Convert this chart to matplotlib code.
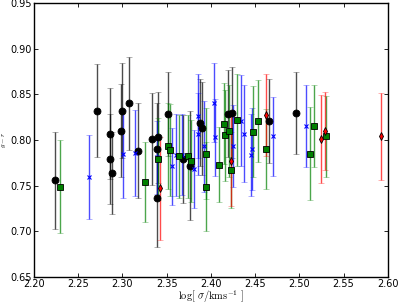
import matplotlib
matplotlib.use("Agg")
import matplotlib.pyplot as plt
import numpy as np

plt.rcParams['mathtext.fontset'] = 'cm'
plt.rcParams['xtick.direction'] = 'in'
plt.rcParams['ytick.direction'] = 'in'
plt.rcParams['xtick.top'] = True
plt.rcParams['ytick.right'] = True

# black circles
bk_x = [2.224, 2.271, 2.286, 2.286, 2.288, 2.298, 2.300, 2.308, 2.318, 2.333, 2.339,
        2.340, 2.339, 2.351, 2.369, 2.376, 2.388, 2.390, 2.419, 2.424, 2.466, 2.496]
bk_y = [0.756, 0.832, 0.807, 0.779, 0.764, 0.810, 0.832, 0.840, 0.788, 0.801, 0.790,
        0.803, 0.736, 0.828, 0.779, 0.772, 0.819, 0.813, 0.829, 0.830, 0.821, 0.830]
bk_e = [0.053, 0.051, 0.050, 0.049, 0.045, 0.051, 0.052, 0.051, 0.052, 0.050, 0.050,
        0.050, 0.053, 0.046, 0.048, 0.060, 0.048, 0.051, 0.048, 0.050, 0.046, 0.045]

# blue crosses
bl_x = [2.262, 2.301, 2.314, 2.339, 2.356, 2.361, 2.367, 2.381, 2.386, 2.385,
        2.392, 2.404, 2.405, 2.425, 2.434, 2.438, 2.446, 2.445, 2.470, 2.508]
bl_y = [0.759, 0.785, 0.786, 0.781, 0.771, 0.784, 0.784, 0.768, 0.826, 0.807,
        0.793, 0.841, 0.803, 0.793, 0.821, 0.807, 0.790, 0.784, 0.804, 0.815]
bl_e = [0.046, 0.048, 0.047, 0.040, 0.042, 0.045, 0.044, 0.043, 0.046, 0.045,
        0.050, 0.043, 0.042, 0.045, 0.050, 0.053, 0.045, 0.045, 0.043, 0.045]

# green squares
gr_x = [2.229, 2.325, 2.340, 2.352, 2.354, 2.364, 2.374, 2.378, 2.394, 2.394, 2.409,
        2.415, 2.416, 2.420, 2.423, 2.429, 2.448, 2.453, 2.462, 2.512, 2.517, 2.530]
gr_y = [0.749, 0.754, 0.779, 0.793, 0.789, 0.782, 0.782, 0.777, 0.785, 0.749, 0.773,
        0.818, 0.805, 0.810, 0.767, 0.822, 0.809, 0.821, 0.790, 0.785, 0.815, 0.804]
gr_e = [0.051, 0.044, 0.045, 0.047, 0.050, 0.045, 0.045, 0.045, 0.050, 0.049, 0.041,
        0.044, 0.050, 0.050, 0.042, 0.050, 0.050, 0.045, 0.044, 0.051, 0.045, 0.044]

# red diamonds
rd_x = [2.342, 2.423, 2.462, 2.524, 2.529, 2.592]
rd_y = [0.747, 0.777, 0.827, 0.801, 0.810, 0.804]
rd_e = [0.056, 0.049, 0.045, 0.048, 0.043, 0.048]


def draw(ax, x, y, e, fmt, col, mfc, ms):
    line, caps, bars = ax.errorbar(x, y, yerr=e, fmt=fmt, color=col, ecolor=col,
                                   mfc=mfc, mec='k', ms=ms, mew=0.6,
                                   capsize=2, elinewidth=1.0)
    for b in bars:
        b.set_alpha(0.7)
    for c in caps:
        c.set_alpha(0.35)
    if fmt == 'x':
        line.set_mec(col)
        line.set_mew(0.8)


fig = plt.figure(figsize=(3.99, 3.03), dpi=100)
ax = fig.add_axes([0.085, 0.086, 0.887, 0.904])

draw(ax, bk_x, bk_y, bk_e, 'o', 'k', 'k', 5)
draw(ax, bl_x, bl_y, bl_e, 'x', 'b', 'b', 3)
draw(ax, gr_x, gr_y, gr_e, 's', 'g', 'g', 4.5)
draw(ax, rd_x, rd_y, rd_e, 'd', 'r', 'r', 4)

ax.set_xlim(2.20, 2.60)
ax.set_ylim(0.65, 0.95)
ax.set_xticks(np.arange(2.20, 2.601, 0.05))
ax.set_yticks(np.arange(0.65, 0.951, 0.05))
ax.xaxis.set_major_formatter(matplotlib.ticker.FormatStrFormatter('%.2f'))
ax.yaxis.set_major_formatter(matplotlib.ticker.FormatStrFormatter('%.2f'))
ax.tick_params(labelsize=7, length=3, width=0.6, colors='k', pad=1.5)
for s in ax.spines.values():
    s.set_linewidth(1.0)

ax.set_xlabel(r'$\log[\ \sigma/{\rm kms}^{-1}\ ]$', fontsize=7.5)
ax.xaxis.set_label_coords(0.5, -0.042, transform=ax.transAxes)
ax.xaxis.label.set_va('top')
ax.set_ylabel(r'$g-r$', fontsize=5)
ax.yaxis.set_label_coords(-0.072, 0.5)

plt.savefig("out.png", dpi=100)
